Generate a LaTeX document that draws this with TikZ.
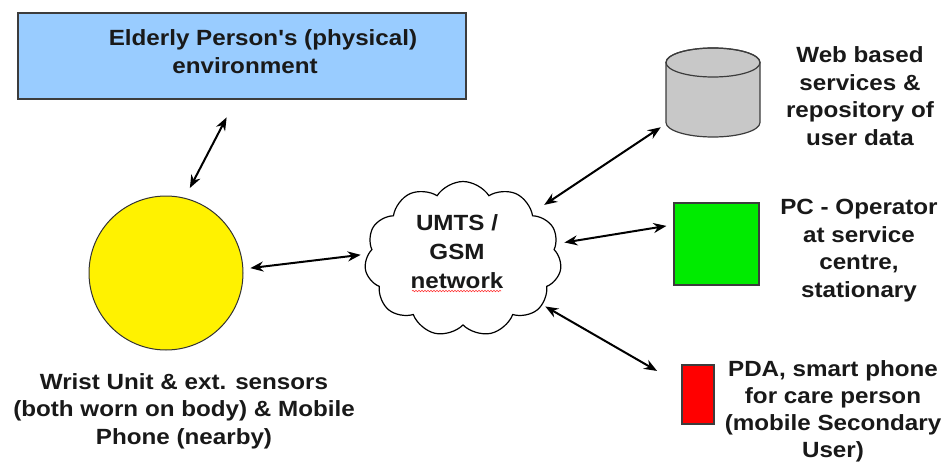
\documentclass[tikz,border=0pt]{standalone}
\usepackage{fontspec}
\newfontfamily\labelfont{Liberation Sans}[FakeStretch=1.1]
\usetikzlibrary{arrows.meta,shapes.symbols,decorations.pathmorphing}
\definecolor{envblue}{RGB}{153,204,255}
\definecolor{dbgray}{RGB}{200,200,200}
\definecolor{pcgreen}{RGB}{0,235,0}
\definecolor{edgegray}{RGB}{60,60,60}
% text nodes are placed by the baseline of their last line
\tikzset{
  txt/.style={inner sep=0pt, align=center, anchor=base,
    font=\labelfont\bfseries\fontsize{22}{27.5}\selectfont, text=black!90},
  link/.style={line width=2pt, {Stealth[length=13pt,width=10pt]}-{Stealth[length=13pt,width=10pt]}},
  solid box/.style={draw=edgegray, line width=1.3pt, inner sep=0pt},
}
\begin{document}
\begin{tikzpicture}[x=1pt,y=-1pt]
\useasboundingbox (0,0) rectangle (946,464);
\fill[white] (0,0) rectangle (946,464);

% environment box
\node[solid box, fill=envblue, minimum width=448pt, minimum height=86pt] (env) at (242,56) {};
\node[txt] (envtxt) at (263,73) {Elderly Person's (physical)\\\hspace*{-36pt}environment};

% wrist unit
\node[circle, draw=black!80, line width=1pt, fill=yellow, minimum size=154pt, inner sep=0pt] (wrist) at (166,273) {};
\node[txt] (wristtxt) at (184,444) {Wrist Unit \& ext. sensors\\(both worn on body) \& Mobile\\Phone (nearby)};

% network cloud
\node[cloud, draw=black, line width=1.2pt, cloud puffs=11, cloud puff arc=115, cloud ignores aspect,
      minimum width=197pt, minimum height=155pt, inner sep=0pt] (net) at (463,259) {};
\node[txt, font=\labelfont\bfseries\fontsize{22}{29}\selectfont] (nettxt) at (457,288) {UMTS /\\GSM\\network};
\draw[red!80, line width=0.6pt, decorate, decoration={snake, amplitude=0.7pt, segment length=3pt}]
  (412,291) -- (501,291);

% repository: the node marks the outline, the can is drawn on it
\node[inner sep=0pt, minimum width=94pt, minimum height=89pt] (cyl) at (713,92.5) {};
\filldraw[draw=edgegray, line width=1.2pt, fill=dbgray]
  (666,62.5) -- (666,122.5) arc[start angle=180, end angle=0, x radius=47, y radius=14.5]
  -- (760,62.5) arc[start angle=0, end angle=-180, x radius=47, y radius=14.5] -- cycle;
\draw[edgegray, line width=1.2pt] (713,62.5) ellipse[x radius=47, y radius=14.5];
\node[txt] (cyltxt) at (860,145) {Web based\\services \&\\repository of\\user data};

% operator PC
\node[solid box, fill=pcgreen, minimum width=85pt, minimum height=82pt] (pc) at (716.5,244) {};
\node[txt] (pctxt) at (859,297) {PC - Operator\\at service\\centre,\\stationary};

% PDA
\node[solid box, fill=red, minimum width=32pt, minimum height=59pt] (pda) at (698,394.5) {};
\node[txt, font=\labelfont\bfseries\fontsize{22}{26.7}\selectfont] (pdatxt) at (833,457) {PDA, smart phone\\for care person\\(mobile Secondary\\User)};

% connections
\draw[link, shorten <=11pt, shorten >=20pt] (wrist.76) -- (env.262);
\draw[link, shorten <=7pt, shorten >=7pt] (wrist.3) -- (net.177);
\draw[link, shorten <=14pt, shorten >=6pt] (net) -- (cyl);
\draw[link, shorten <=8pt, shorten >=7pt] (net) -- (pc.156);
\draw[link, shorten <=3pt, shorten >=28pt] (net) -- (pda);
\end{tikzpicture}
\end{document}
